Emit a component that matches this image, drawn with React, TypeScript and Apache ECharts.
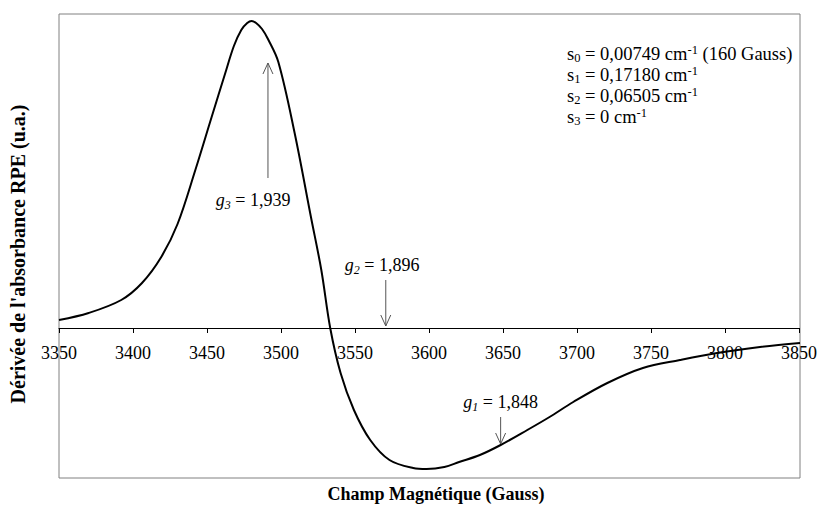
import React, { useEffect, useRef } from "react";
import * as echarts from "echarts";

// Magnetic field (Gauss) and EPR absorbance derivative (arbitrary units)
const fieldGauss = [
  3350, 3370, 3392, 3406, 3419, 3430, 3442, 3453, 3462, 3468, 3473, 3477, 3480, 3483, 3487, 3491,
  3498, 3509, 3520, 3527, 3533, 3540, 3549, 3560, 3573, 3589, 3598, 3610, 3620, 3634,
  3648, 3666, 3681, 3697, 3720, 3744, 3769, 3794, 3823, 3850,
];
const derivative = [
  8, 15, 28, 45, 71, 104, 158, 211, 254, 282, 298, 305, 307, 305, 299, 289,
  266, 195, 111, 58, 0, -45, -82, -112, -132, -140, -141, -139, -134, -127,
  -117, -102, -89, -74, -55, -40, -32, -25, -19, -15,
];

// Annotations: g-values with arrows
const gArrowX = [3491, 3570.5, 3648];
const gArrowFrom = [150, 48, -89];
const gArrowTo = [265, 2, -116];
const gLabelX = [3481, 3568, 3648];
const gLabelY = [128, 63, -74];
const gIndex = ["3", "2", "1"];
const gValue = ["1,939", "1,896", "1,848"];

// Simulation parameters
const sIndex = ["0", "1", "2", "3"];
const sValue = ["0,00749", "0,17180", "0,06505", "0"];
const sExtra = [" (160 Gauss)", "", "", ""];

const xTickMin = 3350;
const xTickMax = 3850;
const xTickStep = 50;
const yMin = -150;
const yMax = 314;

const SERIF = '"Liberation Serif", "Times New Roman", serif';
const GRID = { left: 59, right: 20, top: 14, bottom: 27 };
const H = 505;

export default function App() {
  const ref = useRef<HTMLDivElement>(null);
  useEffect(() => {
    document.body.style.margin = "0";
    if (!ref.current) return;
    const chart = echarts.init(ref.current, undefined, { renderer: "svg" });

    const lineData = fieldGauss.map((x, i) => [x, derivative[i]]);
    const annData = gArrowX.map((x, i) => [x, gArrowFrom[i], gArrowTo[i], gLabelX[i], gLabelY[i]]);

    const labelRich = {
      g: { fontFamily: SERIF, fontSize: 18, fontStyle: "italic", fill: "#000", lineHeight: 22 },
      sub: { fontFamily: SERIF, fontSize: 12, fontStyle: "italic", fill: "#000", lineHeight: 13, verticalAlign: "bottom" },
      t: { fontFamily: SERIF, fontSize: 18, fill: "#000", lineHeight: 22 },
    };

    const paramText = sIndex
      .map((s, i) => `{s|s}{sb|${s}}{t| = ${sValue[i]} cm}{sp|-1}` + (sExtra[i] ? `{t|${sExtra[i]}}` : ""))
      .join("\n");

    const option: any = {
      animation: false,
      grid: [
        {
          ...GRID,
          show: true,
          borderColor: "#808080",
          borderWidth: 1,
          backgroundColor: "transparent",
        },
        { ...GRID, show: false },
      ],
      xAxis: [
        {
          type: "value",
          gridIndex: 0,
          min: xTickMin,
          max: xTickMax,
          interval: xTickStep,
          show: false,
          splitLine: { show: false },
        },
        {
          type: "value",
          gridIndex: 1,
          position: "bottom",
          min: xTickMin,
          max: xTickMax,
          interval: xTickStep,
          axisLine: { onZero: false, lineStyle: { color: "#000", width: 1 } },
          axisTick: { show: true, length: 5, lineStyle: { color: "#000" } },
          axisLabel: {
            fontSize: 18,
            fontFamily: SERIF,
            color: "#000",
            margin: 16,
            formatter: (v: number) => String(v),
          },
          splitLine: { show: false },
        },
      ],
      yAxis: [
        { type: "value", gridIndex: 0, min: yMin, max: yMax, show: false, splitLine: { show: false } },
        { type: "value", gridIndex: 1, min: 0, max: 1, show: false, splitLine: { show: false } },
      ],
      series: [
        {
          type: "line",
          xAxisIndex: 0,
          yAxisIndex: 0,
          data: lineData,
          showSymbol: false,
          smooth: 0.35,
          lineStyle: { color: "#000", width: 2 },
          z: 3,
        },
        {
          type: "custom",
          xAxisIndex: 0,
          yAxisIndex: 0,
          data: annData,
          z: 4,
          renderItem: (params: any, api: any) => {
            const i = params.dataIndex;
            const p1 = api.coord([api.value(0), api.value(1)]);
            const p2 = api.coord([api.value(0), api.value(2)]);
            const lp = api.coord([api.value(3), api.value(4)]);
            const dir = p2[1] < p1[1] ? 1 : -1;
            return {
              type: "group",
              children: [
                {
                  type: "line",
                  shape: { x1: p1[0], y1: p1[1], x2: p2[0], y2: p2[1] },
                  style: { stroke: "#555", lineWidth: 1 },
                },
                {
                  type: "polyline",
                  shape: {
                    points: [
                      [p2[0] - 5, p2[1] + dir * 11],
                      [p2[0], p2[1]],
                      [p2[0] + 5, p2[1] + dir * 11],
                    ],
                  },
                  style: { stroke: "#555", fill: "none", lineWidth: 1 },
                },
                {
                  type: "text",
                  x: lp[0],
                  y: lp[1],
                  style: {
                    text: `{g|g}{sub|${gIndex[i]}}{t| = ${gValue[i]}}`,
                    rich: labelRich,
                    align: "center",
                    verticalAlign: "middle",
                  },
                },
              ],
            };
          },
        },
      ],
      graphic: [
        {
          type: "text",
          x: 567,
          y: 43,
          style: {
            text: paramText,
            rich: {
              s: { fontFamily: SERIF, fontSize: 18.5, fill: "#000", lineHeight: 21 },
              sb: { fontFamily: SERIF, fontSize: 12.5, fill: "#000", lineHeight: 12, verticalAlign: "bottom" },
              t: { fontFamily: SERIF, fontSize: 18.5, fill: "#000", lineHeight: 21 },
              sp: { fontFamily: SERIF, fontSize: 12.5, fill: "#000", lineHeight: 12, verticalAlign: "top" },
            },
          },
        },
        {
          type: "text",
          x: 436,
          y: 494,
          style: {
            text: "Champ Magnétique (Gauss)",
            fontFamily: SERIF,
            fontSize: 18,
            fontWeight: "bold",
            fill: "#000",
            align: "center",
            verticalAlign: "middle",
          },
        },
        {
          type: "text",
          x: 18,
          y: 254,
          rotation: Math.PI / 2,
          style: {
            text: "Dérivée de l'absorbance RPE (u.a.)",
            fontFamily: SERIF,
            fontSize: 20,
            fontWeight: "bold",
            fill: "#000",
            align: "center",
            verticalAlign: "middle",
          },
        },
      ],
    };
    chart.setOption(option);
    // place the labelled axis on the zero line of the data axis
    const zeroY = chart.convertToPixel({ yAxisIndex: 0 }, 0) as number;
    chart.setOption({
      grid: [{}, { ...GRID, bottom: H - zeroY }],
    });
    return () => chart.dispose();
  }, []);
  return <div ref={ref} style={{ width: 820, height: 505 }} />;
}
